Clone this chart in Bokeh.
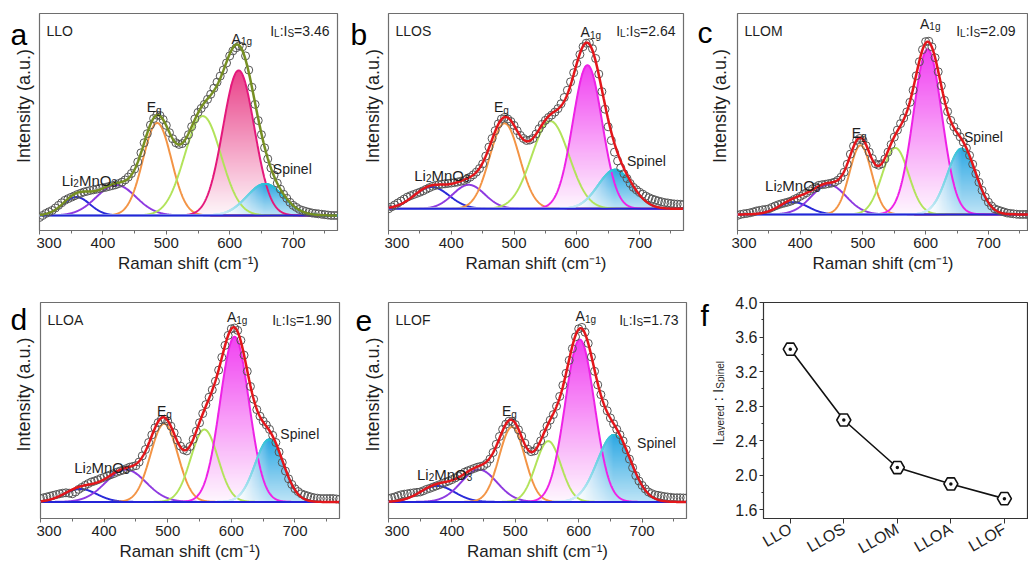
import math
import numpy as np
from bokeh.plotting import figure
from bokeh.layouts import row, column
from bokeh.models import Label, Range1d, FixedTicker, PrintfTickFormatter
from bokeh.embed import file_html
from bokeh.resources import INLINE

FONT = "Liberation Sans"

# ---------------- data ----------------
shift = list(range(300, 771, 5))          # Raman shift (cm-1) of the measured points

int_llo = [-0.01, 0.0, 0.01, 0.018, 0.025, 0.037, 0.05, 0.063, 0.075, 0.083,
           0.09, 0.097, 0.104, 0.11, 0.116, 0.12, 0.124, 0.127, 0.13, 0.134,
           0.137, 0.14, 0.144, 0.148, 0.152, 0.158, 0.165, 0.176, 0.19, 0.208,
           0.23, 0.265, 0.31, 0.36, 0.405, 0.448, 0.48, 0.497, 0.495, 0.475,
           0.446, 0.41, 0.38, 0.36, 0.352, 0.356, 0.37, 0.40, 0.44, 0.478,
           0.51, 0.53, 0.55, 0.575, 0.60, 0.63, 0.66, 0.69, 0.72, 0.755,
           0.79, 0.815, 0.83, 0.84, 0.835, 0.79, 0.72, 0.635, 0.55, 0.47,
           0.40, 0.335, 0.28, 0.235, 0.20, 0.16, 0.13, 0.105, 0.085, 0.065,
           0.05, 0.04, 0.03, 0.025, 0.02, 0.016, 0.012, 0.01, 0.008, 0.006,
           0.004, 0.002, 0.0, 0.0, 0.0]
int_llos = [0.0, 0.01, 0.02, 0.03, 0.04, 0.05, 0.06, 0.067, 0.073, 0.079,
            0.085, 0.092, 0.10, 0.108, 0.115, 0.12, 0.123, 0.126, 0.128, 0.13,
            0.132, 0.134, 0.137, 0.141, 0.145, 0.152, 0.162, 0.174, 0.188, 0.206,
            0.23, 0.27, 0.316, 0.36, 0.40, 0.435, 0.46, 0.468, 0.46, 0.447,
            0.427, 0.40, 0.376, 0.36, 0.35, 0.352, 0.36, 0.383, 0.41, 0.433,
            0.453, 0.468, 0.48, 0.495, 0.513, 0.538, 0.57, 0.607, 0.65, 0.697,
            0.745, 0.79, 0.83, 0.848, 0.85, 0.82, 0.77, 0.69, 0.60, 0.51,
            0.42, 0.35, 0.29, 0.245, 0.21, 0.18, 0.155, 0.13, 0.11, 0.097,
            0.085, 0.075, 0.065, 0.057, 0.05, 0.045, 0.04, 0.036, 0.032, 0.03,
            0.027, 0.025, 0.024, 0.023, 0.022]
int_llom = [-0.005, 0.0, 0.003, 0.005, 0.008, 0.012, 0.017, 0.02, 0.023, 0.025,
            0.028, 0.035, 0.042, 0.048, 0.053, 0.057, 0.061, 0.066, 0.073, 0.081,
            0.09, 0.099, 0.108, 0.118, 0.128, 0.137, 0.145, 0.148, 0.15, 0.153,
            0.156, 0.161, 0.17, 0.185, 0.21, 0.25, 0.30, 0.34, 0.369, 0.378,
            0.369, 0.342, 0.31, 0.278, 0.252, 0.245, 0.252, 0.276, 0.31, 0.348,
            0.385, 0.42, 0.452, 0.48, 0.51, 0.558, 0.618, 0.69, 0.76, 0.82,
            0.86, 0.862, 0.834, 0.78, 0.71, 0.64, 0.568, 0.512, 0.468, 0.436,
            0.41, 0.386, 0.36, 0.33, 0.294, 0.25, 0.203, 0.16, 0.12, 0.087,
            0.061, 0.042, 0.028, 0.022, 0.017, 0.012, 0.007, 0.005, 0.003, 0.001,
            0.0, 0.0, 0.0, 0.0, 0.0]
int_lloa = [0.017, 0.021, 0.025, 0.029, 0.033, 0.037, 0.041, 0.044, 0.046, 0.044,
            0.041, 0.05, 0.063, 0.073, 0.083, 0.092, 0.10, 0.105, 0.111, 0.118,
            0.124, 0.13, 0.136, 0.142, 0.149, 0.155, 0.16, 0.167, 0.174, 0.178,
            0.182, 0.2, 0.231, 0.263, 0.298, 0.336, 0.372, 0.398, 0.413, 0.415,
            0.405, 0.38, 0.347, 0.31, 0.28, 0.262, 0.256, 0.278, 0.314, 0.355,
            0.397, 0.443, 0.488, 0.525, 0.562, 0.605, 0.661, 0.725, 0.785, 0.835,
            0.868, 0.872, 0.86, 0.81, 0.736, 0.655, 0.579, 0.515, 0.463, 0.43,
            0.405, 0.386, 0.364, 0.334, 0.298, 0.25, 0.198, 0.155, 0.116, 0.088,
            0.066, 0.052, 0.041, 0.035, 0.03, 0.025, 0.021, 0.019, 0.017, 0.017,
            0.017, 0.017, 0.017, 0.015, 0.013]
int_llof = [0.017, 0.021, 0.025, 0.031, 0.036, 0.039, 0.041, 0.044, 0.046, 0.048,
            0.05, 0.056, 0.063, 0.068, 0.074, 0.08, 0.086, 0.092, 0.099, 0.105,
            0.112, 0.12, 0.129, 0.139, 0.149, 0.156, 0.162, 0.168, 0.174, 0.178,
            0.182, 0.193, 0.215, 0.248, 0.289, 0.328, 0.364, 0.39, 0.405, 0.403,
            0.388, 0.362, 0.33, 0.295, 0.264, 0.252, 0.256, 0.276, 0.306, 0.343,
            0.38, 0.41, 0.438, 0.48, 0.529, 0.585, 0.645, 0.71, 0.769, 0.828,
            0.868, 0.875, 0.851, 0.795, 0.727, 0.655, 0.587, 0.538, 0.496, 0.457,
            0.421, 0.392, 0.364, 0.337, 0.306, 0.262, 0.215, 0.172, 0.132, 0.105,
            0.083, 0.065, 0.05, 0.042, 0.036, 0.033, 0.03, 0.027, 0.025, 0.023,
            0.021, 0.021, 0.021, 0.02, 0.02]

# fitted Gaussian peaks: Li2MnO3 (two), Eg, shoulder, A1g, Spinel  -> centre, height, width
center_llo = [358.3, 421.0, 485.6, 557.6, 614.1, 655.8]
height_llo = [0.091, 0.151, 0.458, 0.492, 0.718, 0.156]
sigma_llo = [21.5, 31.2, 22.4, 28.7, 24.7, 28.9]
center_llos = [368.6, 427.9, 484.9, 558.0, 617.0, 661.0]
height_llos = [0.112, 0.123, 0.438, 0.449, 0.735, 0.20]
sigma_llos = [28.0, 25.4, 23.8, 29.7, 23.3, 27.0]
center_llom = [389.1, 445.5, 496.2, 551.8, 603.1, 657.4]
height_llom = [0.061, 0.148, 0.344, 0.331, 0.822, 0.327]
sigma_llom = [23.9, 27.8, 17.6, 21.0, 22.7, 23.1]
center_lloa = [362.7, 434.2, 494.4, 557.6, 605.0, 659.6]
height_lloa = [0.065, 0.162, 0.392, 0.363, 0.828, 0.313]
sigma_lloa = [25.8, 31.8, 21.5, 21.4, 22.7, 22.3]
center_llof = [377.0, 442.7, 494.7, 552.0, 601.7, 655.7]
height_llof = [0.080, 0.162, 0.376, 0.305, 0.814, 0.336]
sigma_llof = [27.5, 28.4, 20.2, 20.0, 23.1, 26.5]

samples = ["LLO", "LLOS", "LLOM", "LLOA", "LLOF"]
ratio = [3.46, 2.64, 2.09, 1.90, 1.73]

x_major = [300, 400, 500, 600, 700]
x_minor = [350, 450, 550, 650, 750]
f_major = [1.6, 2.0, 2.4, 2.8, 3.2, 3.6, 4.0]
f_minor = [1.8, 2.2, 2.6, 3.0, 3.4, 3.8]

# ---------------- helpers ----------------
W = {'a': 556, 'b': 556, 'c': 500, 'd': 556, 'e': 556, 'f': 278, 'g': 556, 'h': 556, 'i': 222, 'l': 222,
     'm': 833, 'n': 556, 'o': 556, 'p': 556, 'r': 333, 's': 500, 't': 278, 'u': 556, 'y': 500,
     'A': 667, 'E': 667, 'F': 611, 'I': 278, 'L': 556, 'M': 833, 'O': 778, 'S': 667,
     '.': 278, ':': 278, '=': 584, ' ': 278, '(': 333, ')': 333}


def tw(s, size):
    return sum(W.get(ch, 556) for ch in s) * size / 1000.0


def rich(p, x, y, parts, dx=0.0, dy=0.0, right=False, angle=0.0, color="#1e1e1e"):
    total = sum(tw(t, s) for t, s, _ in parts)
    off = -total if right else 0.0
    for t, s, sh in parts:
        core = t.strip()
        lead = tw(t[:len(t) - len(t.lstrip())], s)
        if core:
            if angle == 0.0:
                kw = dict(x_offset=dx + off + lead, y_offset=dy + sh)
            else:
                kw = dict(x_offset=dx - sh, y_offset=dy + off + lead, angle=angle)
            p.add_layout(Label(x=x, y=y, text=core, text_font=FONT, text_font_size=f"{s}px",
                               text_color=color, text_baseline="alphabetic", text_align="left", **kw))
        off += tw(t, s)


def gauss(xs, c, h, s):
    return h * np.exp(-(xs - c) ** 2 / (2.0 * s * s))


def gradient_area(p, c, h, s, rgb, x0, x1, spinel=False):
    nx, ny = 470, 160
    xs = np.linspace(x0, x1, nx)
    ys = (np.arange(ny) + 0.5) / ny * h
    g = gauss(xs, c, h, s)
    t = np.clip(ys[:, None] / h, 0, 1) * np.ones((1, nx))
    if spinel:
        hf = np.clip((xs - (c - 2.2 * s)) / (2.2 * s), 0.08, 1.0)
        t = (0.3 + 0.7 * t) * hf[None, :]
    else:
        t = 0.04 + 0.96 * t
    img = np.empty((ny, nx), dtype=np.uint32)
    v = img.view(dtype=np.uint8).reshape((ny, nx, 4))
    for k in range(3):
        v[:, :, k] = np.clip(255 + (rgb[k] - 255) * t, 0, 255).astype(np.uint8)
    v[:, :, 3] = np.where(ys[:, None] <= g[None, :], 235, 0).astype(np.uint8)
    p.image_rgba(image=[img], x=x0, y=0, dw=x1 - x0, dh=h)


def side(width, height, letter, lpos, ylab_x, ylab_y, plain=True):
    s = figure(width=width, height=height, x_range=Range1d(0, width), y_range=Range1d(0, height),
               x_axis_type=None, y_axis_type=None, output_backend="svg", toolbar_location=None,
               min_border=0, outline_line_color=None)
    s.xgrid.visible = False
    s.ygrid.visible = False
    s.add_layout(Label(x=lpos[0], y=lpos[1], text=letter, text_font=FONT, text_font_size="30px",
                       text_color="#000000", text_baseline="alphabetic", text_align="left"))
    if plain:
        s.add_layout(Label(x=ylab_x, y=ylab_y, text="Intensity (a.u.)", text_font=FONT, text_font_size="18px",
                           text_color="#1e1e1e", text_baseline="alphabetic", text_align="center",
                           angle=math.pi / 2))
    return s


def spectrum(width, height, bl, br, bt, bb, xend, ybot, obs, cen, hei, sig, name, rat,
             labels, magenta, sumcol, peakcol):
    p = figure(width=width, height=height, x_range=Range1d(300, xend), y_range=Range1d(ybot, 1.0),
               y_axis_type=None, output_backend="svg", toolbar_location=None,
               min_border_left=bl, min_border_right=br, min_border_top=bt, min_border_bottom=bb)
    p.xgrid.visible = False
    p.ygrid.visible = False
    p.outline_line_color = "#6e6e6e"
    p.outline_line_width = 1.2

    ax = p.xaxis[0]
    ax.ticker = FixedTicker(ticks=x_major, minor_ticks=x_minor)
    ax.axis_label = "Raman shift (cm\u207b\u00b9)"
    ax.axis_label_text_font = FONT
    ax.axis_label_text_font_size = "17px"
    ax.axis_label_text_font_style = "normal"
    ax.axis_label_text_color = "#1e1e1e"
    ax.axis_label_standoff = 3
    ax.major_label_text_font = FONT
    ax.major_label_text_font_size = "15px"
    ax.major_label_text_color = "#1e1e1e"
    ax.major_label_standoff = 3
    ax.major_tick_out = 4
    ax.major_tick_in = 0
    ax.minor_tick_out = 3
    ax.minor_tick_in = 0
    ax.axis_line_color = "#6e6e6e"
    ax.major_tick_line_color = "#6e6e6e"
    ax.minor_tick_line_color = "#6e6e6e"

    xs = np.linspace(300, 770, 941)
    comps = [gauss(xs, c, h, s) for c, h, s in zip(cen, hei, sig)]

    gradient_area(p, cen[4], hei[4], sig[4], magenta[1], 300, 770)
    gradient_area(p, cen[5], hei[5], sig[5], (25, 160, 225), 300, 770, spinel=True)

    for i in range(5):
        p.line(xs, comps[i], line_color=peakcol[i] if i < 4 else magenta[0], line_width=2)
    g = comps[5]
    hf = np.clip((xs - (cen[5] - 2.2 * sig[5])) / (2.2 * sig[5]), 0.0, 1.0)
    light = np.array([205, 236, 246])
    dark = np.array([40, 190, 215])
    cols = ["#%02x%02x%02x" % tuple(int(v) for v in (light + (dark - light) * f)) for f in hf[:-1]]
    p.segment(x0=xs[:-1], y0=g[:-1], x1=xs[1:], y1=g[1:], line_color=cols, line_width=2, line_cap="round")
    p.line([300, 770], [0, 0], line_color="#2424d8", line_width=2)

    p.scatter(shift, obs, marker="circle", size=8, line_color="#555555", line_width=1, fill_alpha=0)
    p.line(xs, sum(comps), line_color=sumcol, line_width=2.5)

    rich(p, 300, 1.0, [(name, 14, 0)], dx=7, dy=-17)
    rich(p, xend, 1.0, [("I", 14, 0), ("L", 10, -3), (":I", 14, 0), ("S", 10, -3), ("=%.2f" % rat, 14, 0)],
         dx=-8 if br > 0 else -13, dy=-17, right=True)
    (ex, ey), (axx, ayy), (lx, ly), (sx, sy) = labels
    rich(p, ex, ey, [("E", 14, 0), ("g", 10, -3)])
    rich(p, axx, ayy, [("A", 14, 0), ("1g", 10, -3)])
    rich(p, lx, ly, [("Li", 15, 0), ("2", 10, -3), ("MnO", 15, 0), ("3", 10, -3)])
    rich(p, sx, sy, [("Spinel", 14, 0)])
    return p


PC = ["#2a2ad8", "#8e3ae0", "#f39445", "#b2e35a"]
PINK = ("#e4187b", (232, 50, 128))
MAG = ("#ee22e6", (240, 50, 240))
RED = "#e3161b"
OLIVE = "#768f22"

sa = side(36, 285, "a", (10, 258), 23, 163.5)
pa = spectrum(309, 285, 3, 8, 13, 55, 770, -0.0744, int_llo, center_llo, height_llo, sigma_llo, "LLO", ratio[0],
              [(469, 0.535), (603, 0.875), (335, 0.174), (668, 0.231)], PINK, OLIVE, PC)
sb = side(39, 285, "b", (5, 258), 27, 163.5)
pb = spectrum(306, 285, 4, 7, 13, 55, 770, -0.111, int_llos, center_llos, height_llos, sigma_llos, "LLOS", ratio[1],
              [(468, 0.52), (606, 0.905), (341, 0.171), (680, 0.245)], MAG, RED, PC)
sc = side(41, 285, "c", (7, 260), 29, 163.5)
pc = spectrum(297, 285, 6, 0, 13, 55, 764, -0.08, int_llom, center_llom, height_llom, sigma_llom, "LLOM", ratio[2],
              [(482, 0.405), (591, 0.95), (344, 0.145), (661, 0.385)], MAG, RED, PC)
sd = side(36, 291, "d", (10, 268), 23, 167)
pd = spectrum(309, 291, 4, 6, 15, 58, 770, -0.083, int_lloa, center_lloa, height_lloa, sigma_lloa, "LLOA", ratio[3],
              [(483, 0.455), (593, 0.925), (353, 0.174), (677, 0.339)], MAG, RED, PC)
se = side(39, 291, "e", (10, 266), 27, 167)
pe = spectrum(306, 291, 4, 4, 15, 58, 770, -0.083, int_llof, center_llof, height_llof, sigma_llof, "LLOF", ratio[4],
              [(479, 0.455), (595, 0.93), (345, 0.14), (692, 0.298)], MAG, RED, PC)

# ---------------- panel f ----------------
sf = side(35, 291, "f", (10, 273), 0, 0, plain=False)
rich(sf, 27, 98, [("I", 15, 0), ("Layered", 10, -3), (" : ", 15, 0), ("I", 15, 0), ("Spinel", 10, -3)],
     angle=math.pi / 2)

pf = figure(width=303, height=291, x_range=Range1d(-0.5, 4.45), y_range=Range1d(1.5, 4.0),
            output_backend="svg", toolbar_location=None,
            min_border_left=38, min_border_right=0, min_border_top=17, min_border_bottom=58)
pf.xgrid.visible = False
pf.ygrid.visible = False
pf.outline_line_color = "#333333"
pf.outline_line_width = 1.2
idx = list(range(len(samples)))
pf.line(idx, ratio, line_color="#111111", line_width=1.6)
pf.scatter(idx, ratio, marker="hex_dot", size=14, line_color="#111111", line_width=1.6, fill_color="white")

fx = pf.xaxis[0]
fx.ticker = FixedTicker(ticks=idx)
fx.major_label_overrides = {i: s for i, s in zip(idx, samples)}
fx.major_label_orientation = math.pi / 6
fx.major_label_text_font = FONT
fx.major_label_text_font_size = "16px"
fx.major_label_text_color = "#1e1e1e"
fx.major_tick_out = 5
fx.major_tick_in = 0
fx.minor_tick_out = 0
fx.major_label_standoff = 4
fx.axis_line_color = "#333333"
fx.major_tick_line_color = "#333333"

fy = pf.yaxis[0]
fy.ticker = FixedTicker(ticks=f_major, minor_ticks=f_minor)
fy.formatter = PrintfTickFormatter(format="%.1f")
fy.major_label_text_font = FONT
fy.major_label_text_font_size = "16px"
fy.major_label_text_color = "#1e1e1e"
fy.major_tick_out = 4
fy.major_tick_in = 0
fy.minor_tick_out = 2
fy.minor_tick_in = 0
fy.major_label_standoff = 2
fy.axis_line_color = "#333333"
fy.major_tick_line_color = "#333333"
fy.minor_tick_line_color = "#333333"

layout = column(row(sa, pa, sb, pb, sc, pc), row(sd, pd, se, pe, sf, pf))
open("out.html", "w").write(file_html(layout, INLINE))
